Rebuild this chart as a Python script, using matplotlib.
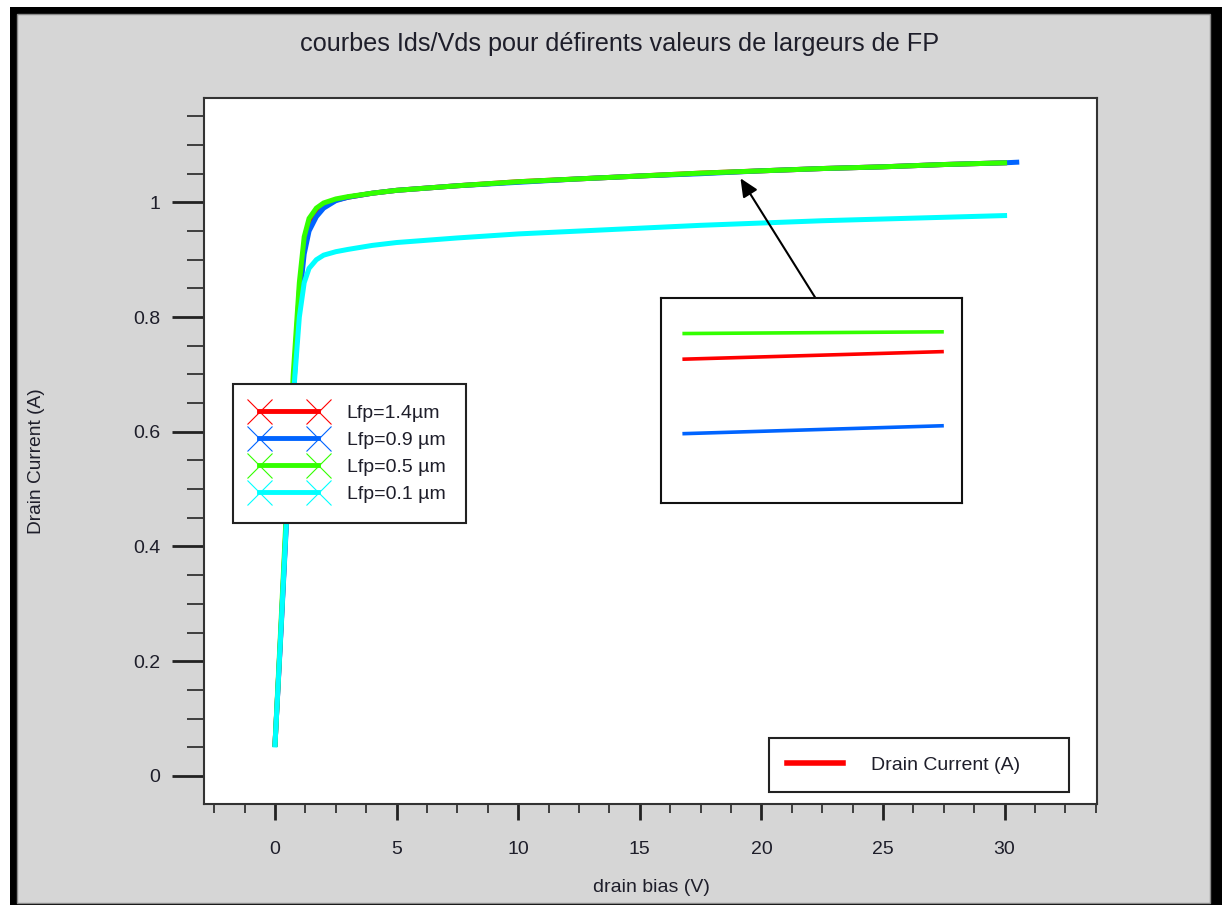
import matplotlib
matplotlib.use("Agg")
import matplotlib.pyplot as plt
from matplotlib.lines import Line2D
from matplotlib.patches import Rectangle
from matplotlib.ticker import MultipleLocator, FuncFormatter

plt.rcParams['font.family'] = ['Liberation Sans', 'DejaVu Sans']

# Drain bias sweep (V)
vds = [0.0, 0.25, 0.5, 0.75, 1.0, 1.2, 1.4, 1.7, 2.0, 2.5, 3.0, 4.0, 5.0,
       7.5, 10.0, 12.5, 15.0, 17.5, 20.0, 22.5, 25.0, 27.5, 30.0]
vds_09 = vds + [30.5]

# Drain current (A) for each field-plate length
id_lfp14 = [0.055, 0.26, 0.475, 0.675, 0.845, 0.925, 0.96, 0.982, 0.993, 1.004, 1.009,
            1.016, 1.021, 1.029, 1.036, 1.041, 1.046, 1.051, 1.055, 1.059, 1.062, 1.066, 1.069]
id_lfp09 = [0.055, 0.255, 0.465, 0.665, 0.83, 0.91, 0.95, 0.975, 0.99, 1.003, 1.009,
            1.016, 1.021, 1.029, 1.035, 1.041, 1.046, 1.050, 1.055, 1.059, 1.062, 1.066, 1.069, 1.070]
id_lfp05 = [0.055, 0.27, 0.49, 0.70, 0.86, 0.94, 0.972, 0.99, 0.999, 1.006, 1.010,
            1.016, 1.021, 1.029, 1.036, 1.041, 1.046, 1.051, 1.055, 1.059, 1.062, 1.066, 1.069]
id_lfp01 = [0.054, 0.26, 0.47, 0.66, 0.80, 0.86, 0.885, 0.90, 0.908, 0.914, 0.918,
            0.925, 0.930, 0.938, 0.945, 0.950, 0.955, 0.960, 0.964, 0.968, 0.971, 0.974, 0.977]

labels = ['Lfp=1.4µm', 'Lfp=0.9 µm', 'Lfp=0.5 µm', 'Lfp=0.1 µm']
colors = ['#ff0000', '#0064ff', '#33ff00', '#00ffff']

# Magnified view near Vds ~ 19 V
zoom_vds = [18.9, 19.3]
zoom_lfp05 = [1.05496, 1.05501]
zoom_lfp14 = [1.05421, 1.05443]
zoom_lfp09 = [1.05203, 1.05226]

W, H = 1222, 906
fig = plt.figure(figsize=(W / 100, H / 100), dpi=100, facecolor='white')

# window frame
fig.patches.append(Rectangle((10 / W, 1 - 905 / H), (W - 10) / W, (905 - 7) / H,
                             transform=fig.transFigure, facecolor='black',
                             edgecolor='none', zorder=-2))
fig.patches.append(Rectangle((17 / W, 1 - 903 / H), (1210 - 17) / W, (903 - 14) / H,
                             transform=fig.transFigure, facecolor='#d6d6d6',
                             edgecolor='#8a8a8a', linewidth=1.0, zorder=-1))

ax = fig.add_axes([204 / W, 1 - 804 / H, (1097 - 204) / W, (804 - 98) / H])
ax.set_facecolor('white')

series = [(vds, id_lfp14), (vds_09, id_lfp09), (vds, id_lfp05), (vds, id_lfp01)]
for (x, y), c in zip(series, colors):
    ax.plot(x, y, color=c, lw=3.6, solid_joinstyle='miter')

ax.set_xlim(-2.92, 33.8)
ax.set_ylim(-0.049, 1.182)

ax.xaxis.set_major_locator(MultipleLocator(5))
ax.xaxis.set_minor_locator(MultipleLocator(1.25))
ax.yaxis.set_major_locator(MultipleLocator(0.2))
ax.yaxis.set_minor_locator(MultipleLocator(0.05))
ax.yaxis.set_major_formatter(FuncFormatter(lambda v, _: f'{v:g}'))
ax.xaxis.set_major_formatter(FuncFormatter(lambda v, _: f'{v:g}'))

tick_color = '#1e1e2a'
ax.tick_params(axis='y', which='major', length=23, width=2, pad=8.5,
               labelsize=14, colors='#222222', labelcolor=tick_color)
ax.tick_params(axis='y', which='minor', length=12, width=1.3, colors='#333333')
ax.tick_params(axis='x', which='major', length=11.5, width=2, pad=15,
               labelsize=14, colors='#222222', labelcolor=tick_color)
ax.tick_params(axis='x', which='minor', length=6.5, width=1.3, colors='#333333')
for s in ax.spines.values():
    s.set_color('#333333')
    s.set_linewidth(1.5)

fig.text(620 / W, 1 - 44 / H, 'courbes Ids/Vds pour défirents valeurs de largeurs de FP',
         ha='center', va='center', fontsize=18.2, color=tick_color)
fig.text(651 / W, 1 - 887 / H, 'drain bias (V)', ha='center', va='center',
         fontsize=14, color=tick_color)
fig.text(37 / W, 1 - 461 / H, 'Drain Current (A)', ha='center', va='center',
         rotation=90, fontsize=13.8, color=tick_color)

# legend of field-plate lengths
handles1 = [Line2D([], [], color=c, lw=3.5, marker='x', markersize=18,
                   markeredgewidth=0.8) for c in colors]
leg1 = ax.legend(handles1, labels, loc='upper left',
                 bbox_to_anchor=(233 / W, 1 - 384 / H), bbox_transform=fig.transFigure,
                 borderaxespad=0, numpoints=2, handlelength=3.6, handletextpad=1.2,
                 borderpad=1.05, labelspacing=0.48, fontsize=14, fancybox=False,
                 framealpha=1, edgecolor='#222222')
leg1.get_frame().set_linewidth(1.5)
for t in leg1.get_texts():
    t.set_color(tick_color)
ax.add_artist(leg1)

leg2 = ax.legend([Line2D([], [], color='#ff0000', lw=4)], ['Drain Current (A)'],
                 loc='upper left', mode='expand',
                 bbox_to_anchor=(769 / W, 1 - 791 / H, 300 / W, 53 / H),
                 bbox_transform=fig.transFigure, borderaxespad=0,
                 handlelength=2.85, handletextpad=1.45, borderpad=0.93, fontsize=14,
                 fancybox=False, framealpha=1, edgecolor='#222222')
leg2.get_frame().set_linewidth(1.5)
for t in leg2.get_texts():
    t.set_color(tick_color)

# arrow pointing from the magnified view to the curves
ax.annotate('', xy=(19.14, 1.042), xytext=(22.22, 0.8335),
            arrowprops=dict(arrowstyle='-|>,head_length=1.1,head_width=0.5',
                            color='black', lw=1.5, shrinkA=0, shrinkB=0))

ins = fig.add_axes([661 / W, 1 - 503 / H, 301 / W, 205 / H])
ins.plot(zoom_vds, zoom_lfp05, color=colors[2], lw=2.6)
ins.plot(zoom_vds, zoom_lfp14, color=colors[0], lw=2.6)
ins.plot(zoom_vds, zoom_lfp09, color=colors[1], lw=2.6)
ins.set_xlim(18.864, 19.331)
ins.set_ylim(1.0500, 1.0560)
ins.set_xticks([])
ins.set_yticks([])
for s in ins.spines.values():
    s.set_color('#111111')
    s.set_linewidth(1.5)

fig.savefig('out.png', dpi=100, facecolor=fig.get_facecolor())
